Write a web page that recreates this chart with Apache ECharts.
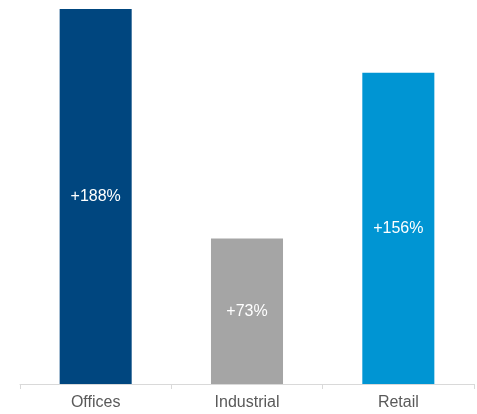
<!DOCTYPE html>
<html><head><meta charset="utf-8">
<script src="https://cdn.jsdelivr.net/npm/echarts@6/dist/echarts.min.js"></script>
<style>html,body{margin:0;padding:0;background:#fff}#c{width:477px;height:414px}</style>
</head><body><div id="c"></div>
<script>
const categories = ['Offices', 'Industrial', 'Retail'];
const values = [188, 73, 156];
const labels = ['+188%', '+73%', '+156%'];
const colors = ['#00467f', '#a5a5a5', '#0095d3'];

const chart = echarts.init(document.getElementById('c'), null, {renderer: 'canvas'});
chart.setOption({
  animation: false,
  grid: {left: 20, right: 3, top: 9, bottom: 30, containLabel: false},
  xAxis: {
    type: 'category', data: categories,
    axisLine: {lineStyle: {color: '#d9d9d9', width: 1}},
    axisTick: {show: true, length: 5, lineStyle: {color: '#d9d9d9'}},
    axisLabel: {color: '#595959', fontSize: 16, fontFamily: 'Liberation Sans, Arial, sans-serif', margin: 11}
  },
  yAxis: {type: 'value', min: 0, max: 188, show: false, splitLine: {show: false}},
  series: [{
    type: 'bar', barWidth: '47.6%',
    data: values.map((v, i) => ({value: v, itemStyle: {color: colors[i]}})),
    label: {
      show: true, position: 'inside', color: '#fff', fontSize: 16,
      fontFamily: 'Liberation Sans, Arial, sans-serif',
      formatter: p => labels[p.dataIndex]
    }
  }]
});
</script></body></html>
